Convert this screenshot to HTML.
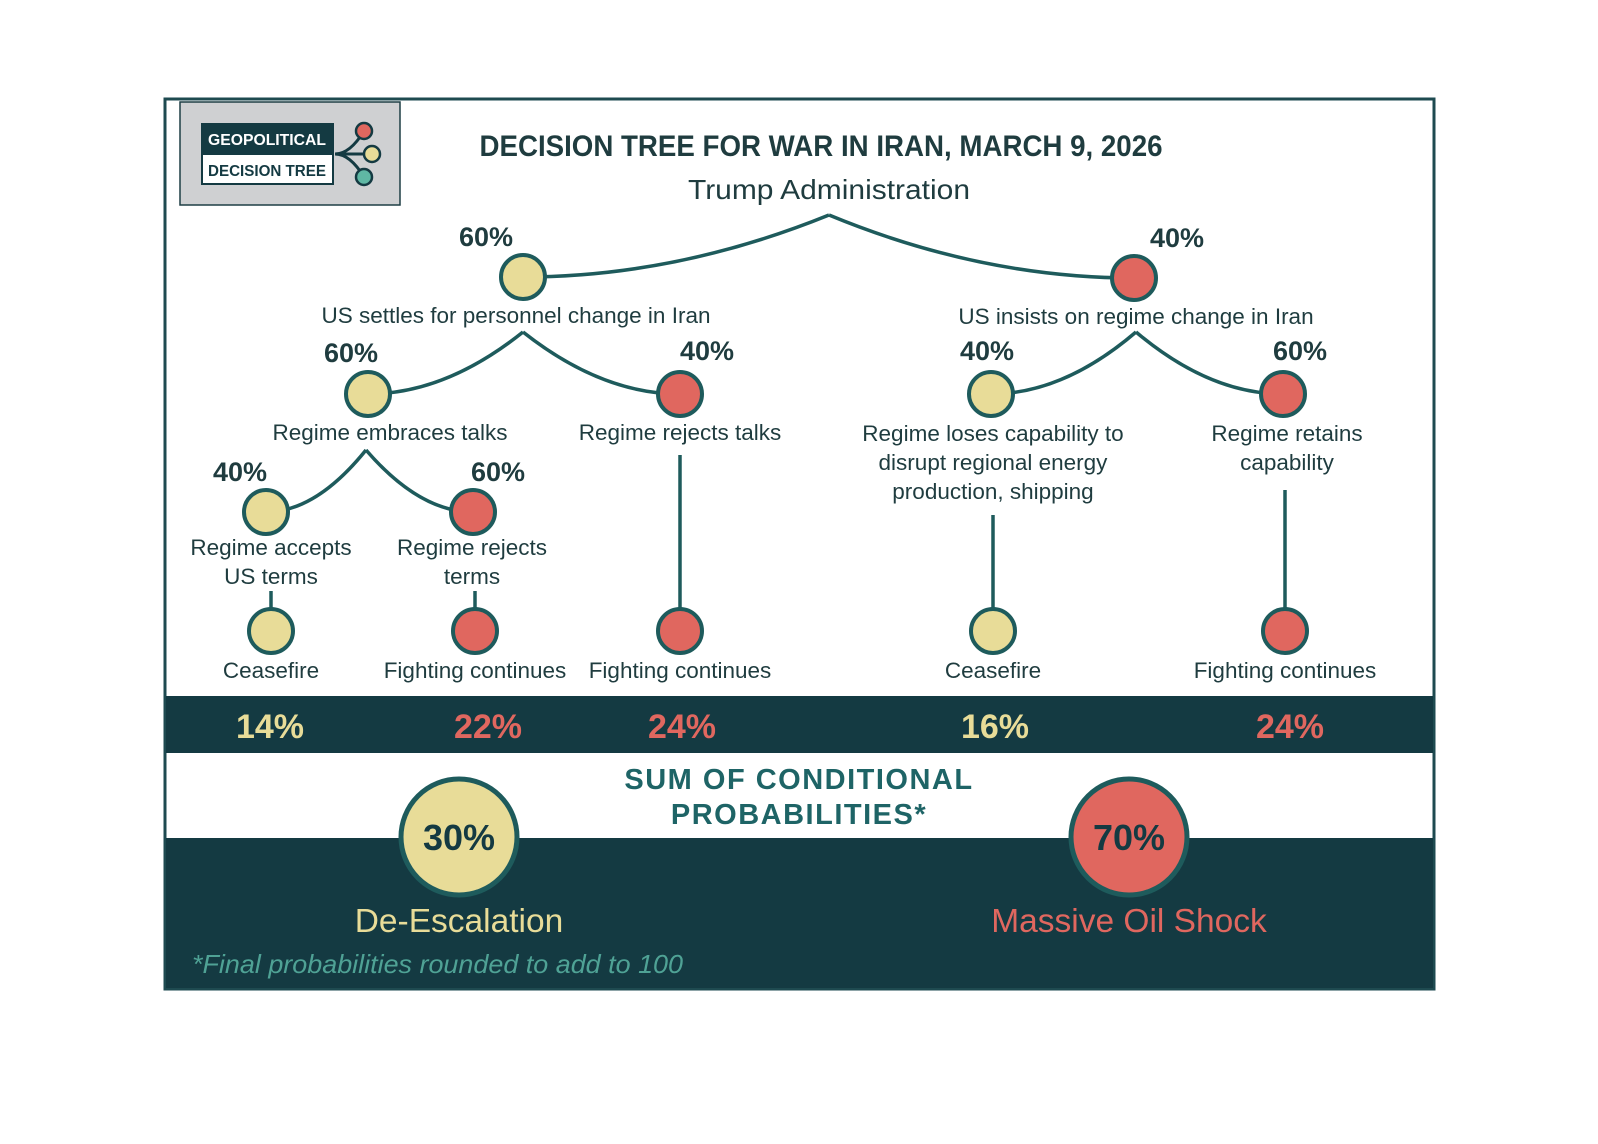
<!DOCTYPE html>
<html><head><meta charset="utf-8">
<style>
body{margin:0;background:#fff;}
svg{display:block;}
text{font-family:"Liberation Sans",sans-serif;}
</style></head>
<body>
<svg id="chart" width="1598" height="1144" viewBox="0 0 1598 1144">
  <rect x="0" y="0" width="1598" height="1144" fill="#ffffff"/>
  <rect x="165" y="99" width="1269" height="890" fill="#ffffff" stroke="#1e4a50" stroke-width="3"/>
  <g>
    <rect x="180" y="102" width="220" height="103" fill="#cfd0d2" stroke="#1e3f45" stroke-width="1.5"/>
    <rect x="202" y="124" width="131" height="30" fill="#143a42" stroke="#143a42" stroke-width="2"/>
    <rect x="202" y="154" width="131" height="30" fill="#ffffff" stroke="#143a42" stroke-width="2"/>
    <text x="267" y="145" text-anchor="middle" font-size="16" font-weight="bold" fill="#ffffff" textLength="118" lengthAdjust="spacingAndGlyphs">GEOPOLITICAL</text>
    <text x="267" y="176" text-anchor="middle" font-size="16" font-weight="bold" fill="#143a42" textLength="118" lengthAdjust="spacingAndGlyphs">DECISION TREE</text>
    <path d="M335 154 Q350 154 364 131 M335 154 L372 154 M335 154 Q350 154 364 177" stroke="#143a42" stroke-width="3" fill="none"/>
    <circle cx="364" cy="131" r="8" fill="#e0675f" stroke="#143a42" stroke-width="2.5"/>
    <circle cx="372" cy="154" r="8" fill="#e8dc98" stroke="#143a42" stroke-width="2.5"/>
    <circle cx="364" cy="177" r="8" fill="#5fb8a4" stroke="#143a42" stroke-width="2.5"/>
  </g>
  <text x="821" y="156" text-anchor="middle" font-size="30" font-weight="bold" fill="#1f3c3f" textLength="683" lengthAdjust="spacingAndGlyphs">DECISION TREE FOR WAR IN IRAN, MARCH 9, 2026</text>
  <text x="829" y="199" text-anchor="middle" font-size="28" fill="#1f3c3f" textLength="282" lengthAdjust="spacingAndGlyphs">Trump Administration</text>
  <rect x="166" y="696" width="1267" height="57" fill="#143a42"/>
  <rect x="166" y="838" width="1267" height="150" fill="#143a42"/>
  <text x="799" y="789" text-anchor="middle" font-size="29" font-weight="bold" fill="#1e6466" letter-spacing="1.5">SUM OF CONDITIONAL</text>
  <text x="799" y="824" text-anchor="middle" font-size="29" font-weight="bold" fill="#1e6466" letter-spacing="1.5">PROBABILITIES*</text>
  <text x="192" y="973" font-size="26" font-style="italic" fill="#4fa295" textLength="491" lengthAdjust="spacingAndGlyphs">*Final probabilities rounded to add to 100</text>
  <g id="tree"></g>
</svg>
<script>
// Branch data
const nodeNames = ["US settles for personnel change in Iran","US insists on regime change in Iran","Regime embraces talks","Regime rejects talks","Regime loses capability to|disrupt regional energy|production, shipping","Regime retains|capability","Regime accepts|US terms","Regime rejects|terms"];
const nodeProbs = [60, 40, 60, 40, 40, 60, 40, 60];
const nodeKinds = ["y","r","y","r","y","r","y","r"];
const leafNames = ["Ceasefire","Fighting continues","Fighting continues","Ceasefire","Fighting continues"];
const leafProbs = [14, 22, 24, 16, 24];
const leafKinds = ["y","r","r","y","r"];
const summaryNames = ["De-Escalation","Massive Oil Shock"];
const summaryProbs = [30, 70];

const C = {y:"#e8dc98", r:"#e0675f", line:"#1e5b5c", text:"#1f3c3f"};
const NS = "http://www.w3.org/2000/svg";
const g = document.getElementById("tree");
function mk(tag, attrs, txt){
  const e = document.createElementNS(NS, tag);
  for (const k in attrs) e.setAttribute(k, attrs[k]);
  if (txt !== undefined) e.textContent = txt;
  g.appendChild(e);
  return e;
}
// layout (not data)
const pos = [[523,277],[1134,278],[368,394],[680,394],[991,394],[1283,394],[266,512],[473,512]];
const apex = [[829,215],[829,215],[523,332],[523,332],[1136,332],[1136,332],[366,450],[366,450]];
const pctPos = [[486,246],[1177,247],[351,362],[707,360],[987,360],[1300,360],[240,481],[498,481]];
const labelPos = [[516,323],[1136,324],[390,440],[680,440],[993,441],[1287,441],[271,555],[472,555]];
const leafX = [271,475,680,993,1285];
const stemTop = [591,591,455,515,490];

for (let i = 0; i < nodeNames.length; i++){
  const [ax, ay] = apex[i]; const [nx, ny] = pos[i];
  const p = mk("path", {d:`M${ax} ${ay} Q${ax+(nx-ax)*0.5} ${ny} ${nx} ${ny}`, stroke:C.line, "stroke-width":3.5, fill:"none"});
  
  
}
for (let i = 0; i < leafNames.length; i++){
  const l = mk("line", {x1:leafX[i], y1:stemTop[i], x2:leafX[i], y2:610, stroke:C.line, "stroke-width":3.5});
  
  
}
for (let i = 0; i < nodeNames.length; i++){
  const [nx, ny] = pos[i];
  const c = mk("circle", {cx:nx, cy:ny, r:22, fill:C[nodeKinds[i]], stroke:C.line, "stroke-width":4});
  
  
  const t = mk("text", {x:pctPos[i][0], y:pctPos[i][1], "text-anchor":"middle", "font-size":27, "font-weight":"bold", fill:C.text}, nodeProbs[i] + "%");
  
  
  const lines = nodeNames[i].split("|");
  lines.forEach((s, k) => {
    const lt = mk("text", {x:labelPos[i][0], y:labelPos[i][1] + k*29, "text-anchor":"middle", "font-size":22.5, fill:C.text}, s);
    
    
  });
}
for (let i = 0; i < leafNames.length; i++){
  const c = mk("circle", {cx:leafX[i], cy:631, r:22, fill:C[leafKinds[i]], stroke:C.line, "stroke-width":4});
  
  
  const t = mk("text", {x:leafX[i], y:678, "text-anchor":"middle", "font-size":22.5, fill:C.text}, leafNames[i]);
  
  
}
const pctX = [270,488,682,995,1290];
for (let i = 0; i < leafProbs.length; i++){
  const t = mk("text", {x:pctX[i], y:738, "text-anchor":"middle", "font-size":34, "font-weight":"bold", fill:C[leafKinds[i]]}, leafProbs[i] + "%");
  
  
}
const sumX = [459,1129]; const sumK = ["y","r"];
for (let i = 0; i < summaryProbs.length; i++){
  const c = mk("circle", {cx:sumX[i], cy:837, r:58, fill:C[sumK[i]], stroke:"#1e5b5c", "stroke-width":5});
  
  
  const t = mk("text", {x:sumX[i], y:850, "text-anchor":"middle", "font-size":36, "font-weight":"bold", fill:"#143a42"}, summaryProbs[i] + "%");
  
  
  const l = mk("text", {x:sumX[i], y:932, "text-anchor":"middle", "font-size":33.5, fill:C[sumK[i]]}, summaryNames[i]);
  
  
}
</script>
</body></html>
